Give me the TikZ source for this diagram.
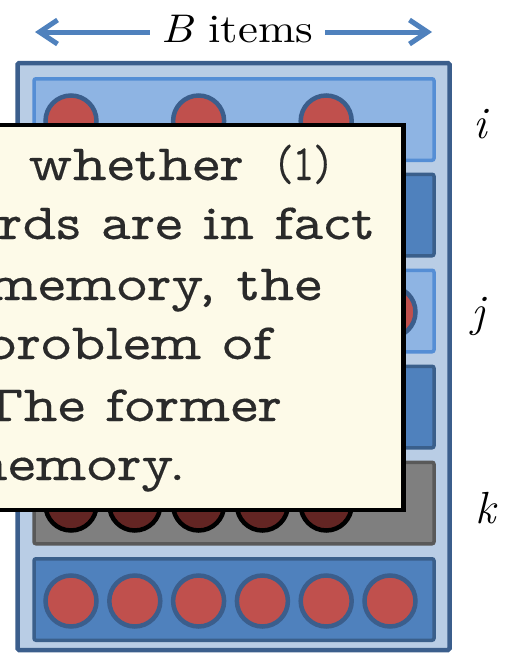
\documentclass[tikz,border=0pt]{standalone}
\usepackage{fontspec}
\usetikzlibrary{arrows.meta}
\newfontfamily\scanfont[FakeStretch=1.15, FakeBold=0.25]{lmmonoprop10-regular.otf}
\newfontfamily\hdrfont[FakeStretch=1.12, ItalicFont=lmroman10-italic.otf]{lmroman10-regular.otf}
\definecolor{boxedge}{HTML}{3B5E8C}
\definecolor{boxfill}{HTML}{B9CDE5}
\definecolor{lightedge}{HTML}{558ED5}
\definecolor{lightfill}{HTML}{8EB4E3}
\definecolor{darkedge}{HTML}{3A5F8B}
\definecolor{darkfill}{HTML}{4F81BD}
\definecolor{grayedge}{HTML}{595959}
\definecolor{grayfill}{HTML}{7F7F7F}
\definecolor{balledge}{HTML}{3B5E8C}
\definecolor{ballfill}{HTML}{C0504D}
\definecolor{darkballfill}{HTML}{632523}
\definecolor{notefill}{HTML}{FDFAE8}
\definecolor{inkcol}{HTML}{2A2A2A}
\definecolor{arrowcol}{HTML}{4F81BD}
\begin{document}
\begin{tikzpicture}[x=1pt,y=-1pt,
  outerbox/.style={draw=boxedge, fill=boxfill, line width=4.5pt, rounded corners=1.5pt, minimum width=432pt, minimum height=587pt, inner sep=0pt},
  rowbase/.style={line width=3.5pt, rounded corners=2pt, minimum width=400pt, minimum height=81.5pt, inner sep=0pt},
  lightrow/.style={rowbase, draw=lightedge, fill=lightfill},
  darkrow/.style={rowbase, draw=darkedge, fill=darkfill},
  grayrow/.style={rowbase, draw=grayedge, fill=grayfill},
  ballbase/.style={circle, minimum size=51pt, inner sep=0pt, line width=4.5pt},
  redball/.style={ballbase, draw=balledge, fill=ballfill},
  darkball/.style={ballbase, draw=black, fill=darkballfill},
  notebox/.style={draw=black, fill=notefill, line width=4.5pt, minimum width=423.5pt, minimum height=385pt, inner sep=0pt},
  scantext/.style={font=\scanfont\fontsize{51}{60}\selectfont, text=inkcol, inner sep=0pt},
  dimarrow/.style={draw=arrowcol, line width=5pt, -{Straight Barb[length=18pt,width=24pt]}},
  rowlabel/.style={font=\fontsize{45}{54}\selectfont\itshape, inner sep=0pt, anchor=base},
]
\useasboundingbox (0,0) rectangle (504,653);
% outer container
\node[outerbox] (outer) at (233.5,356.5) {};
% rows
\node[lightrow] (r1) at (234,119.5) {};
\node[darkrow]  (r2) at (234,215) {};
\node[lightrow] (r3) at (234,311) {};
\node[darkrow]  (r4) at (234,407) {};
\node[grayrow]  (r5) at (234,503) {};
\node[darkrow]  (r6) at (234,599.5) {};
% balls, row 1
\node[redball] (b11) at (71,121) {};
\node[redball] (b13) at (198.6,121) {};
\node[redball] (b15) at (326.2,121) {};
% row 3
\node[redball] (b36) at (390,312) {};
% row 5
\node[darkball] (b51) at (71,505) {};
\node[darkball] (b52) at (134.8,505) {};
\node[darkball] (b53) at (198.6,505) {};
\node[darkball] (b54) at (262.4,505) {};
\node[darkball] (b55) at (326.2,505) {};
% row 6
\node[redball] (b61) at (71,601) {};
\node[redball] (b62) at (134.8,601) {};
\node[redball] (b63) at (198.6,601) {};
\node[redball] (b64) at (262.4,601) {};
\node[redball] (b65) at (326.2,601) {};
\node[redball] (b66) at (390,601) {};
% note box with scanned text
\node[notebox] (note) at (191.75,317.5) {};
\begin{scope}
\clip (-30,127) rectangle (401,508);
\node[scantext, anchor=base west] (t1) at (28,180) {\makebox[302pt]{whether\hfill\scalebox{0.68}[1]{(1)}}};
\node[scantext, anchor=base east] (t2) at (375,239) {words are in fact};
\node[scantext, anchor=base east] (t3) at (322,300) {memory, the};
\node[scantext, anchor=base east] (t4) at (272,359) {problem of};
\node[scantext, anchor=base east] (t5) at (282,421) {The former};
\node[scantext, anchor=base east] (t6) at (186,480) {memory.};
\end{scope}
% row labels
\node[rowlabel] (li) at (480,138) {i};
\node[rowlabel] (lj) at (478,326) {j};
\node[rowlabel] (lk) at (486,523) {k};
% header
\node[font=\hdrfont\fontsize{40}{48}\selectfont, anchor=base, inner xsep=12pt, inner ysep=0pt] (hdr) at (237.5,42) {{\itshape B} items};
\coordinate (lt) at (35,32);
\coordinate (rt) at (432,32);
\draw[dimarrow] (hdr.west |- lt) -- (lt);
\draw[dimarrow] (hdr.east |- rt) -- (rt);
\end{tikzpicture}
\end{document}
